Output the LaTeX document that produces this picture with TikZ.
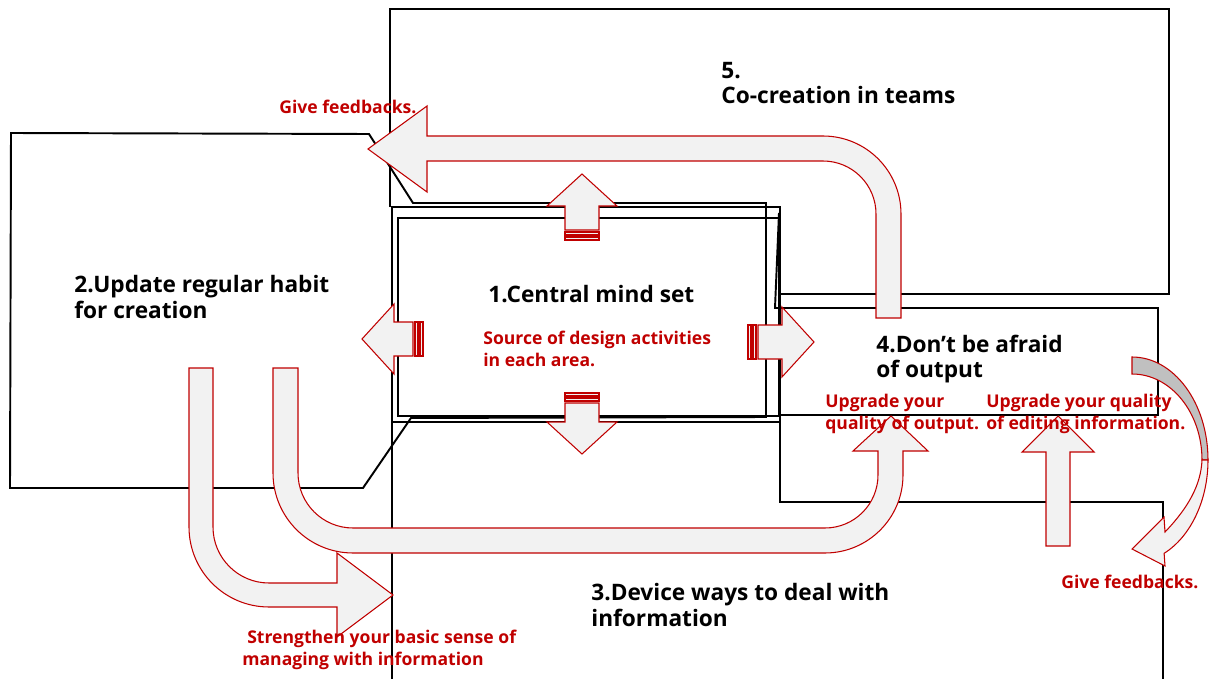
\documentclass[tikz,border=0pt]{standalone}
\usepackage{fontspec}
\setmainfont{Open Sans}[BoldFont={Open Sans Bold}]
\definecolor{mindred}{RGB}{192,0,0}
\definecolor{mindfill}{RGB}{242,242,242}
\definecolor{mindback}{RGB}{192,192,192}
\tikzset{
  areabox/.style={black,line width=1.1pt},
  blockarrow/.style={draw=mindred,fill=mindfill,line width=0.6pt,line join=miter},
  areatitle/.style={anchor=west,inner sep=0pt,align=left,font=\bfseries\fontsize{12.9}{14.7}\selectfont},
  areanote/.style={anchor=west,inner sep=0pt,align=left,text=mindred,font=\bfseries\fontsize{10}{12.5}\selectfont}
}
\newcommand\stripedarrow[3]{%
  \begin{scope}[shift={#1},rotate=#2]
    \filldraw[blockarrow] (0,-17) rectangle (3,17);
    \filldraw[blockarrow] (5,-17) rectangle (8,17);
    \filldraw[blockarrow] (10,-17) -- (#3-32,-17) -- (#3-32,-35) -- (#3,0) -- (#3-32,35) -- (#3-32,17) -- (10,17) -- cycle;
  \end{scope}}

\begin{document}
\begin{tikzpicture}[x=0.02cm,y=-0.02cm]
\useasboundingbox (0,0) rectangle (1211,679);
\clip (0,0) rectangle (1211,679);
% areas
\draw[areabox] (780,294) -- (1169,294) -- (1169,9) -- (390,9) -- (390,207);
\draw[areabox] (11,133) -- (369,134) -- (413,203) -- (766,203) -- (766,417) -- (411,418) -- (363,488) -- (10,488) -- cycle;
\draw[areabox] (392,207) rectangle (780,422);
\draw[areabox] (398,218) rectangle (779,416);
\draw[areabox] (779,213) -- (775,308) -- (1158,308) -- (1158,415) -- (780,415);
\draw[areabox] (392,690) -- (392,422) -- (780,422) -- (780,502) -- (1163,502) -- (1163,690);
% block arrows
\filldraw[blockarrow] (876,318) -- (876,214) arc[start angle=0,end angle=-90,radius=53] -- (427,161) -- (427,192) -- (368,149) -- (427,106) -- (427,136) -- (823,136) arc[start angle=-90,end angle=0,radius=78] -- (901,318) -- cycle;
\stripedarrow{(582,240)}{90}{66}
\stripedarrow{(582,393)}{-90}{61}
\stripedarrow{(423,339)}{180}{61}
\stripedarrow{(748,342)}{0}{66}
\filldraw[blockarrow] (189,368) -- (189,527) arc[start angle=180,end angle=90,radius=80] -- (337,607) -- (337,637) -- (393,595) -- (337,553) -- (337,583) -- (269,583) arc[start angle=90,end angle=180,radius=56] -- (213,368) -- cycle;
\filldraw[blockarrow] (273,368) -- (273,473) arc[start angle=180,end angle=90,radius=80] -- (825,553) arc[start angle=90,end angle=0,radius=78] -- (903,451) -- (928,451) -- (891,416) -- (853,451) -- (878,451) -- (878,475) arc[start angle=0,end angle=90,radius=53] -- (353,528) arc[start angle=90,end angle=180,radius=55] -- (298,368) -- cycle;
\filldraw[blockarrow] (1046,546) -- (1046,452) -- (1022,452) -- (1058,416) -- (1094,452) -- (1070,452) -- (1070,546) -- cycle;
\filldraw[blockarrow,fill=mindback] (1132,357) arc[start angle=-90,end angle=0,x radius=76,y radius=103] -- (1202,460) arc[start angle=0,end angle=-90,x radius=70,y radius=86] -- cycle;
\filldraw[blockarrow] (1208,460) arc[start angle=0,end angle=65,x radius=76,y radius=103] -- (1165,566) -- (1132,549) -- (1164,517) -- (1165,532) .. controls (1188,508) and (1201,485) .. (1202,460) -- cycle;
% texts
\node[areatitle] (titlefive) at (721,83) {5.\\Co-creation in teams};
\node[areatitle] (titletwo) at (74,297) {2.Update regular habit\\for creation};
\node[areatitle] (titleone) at (488,294) {1.Central mind set};
\node[areatitle] (titlefour) at (876,359) {4.Don’t be afraid\\of output};
\node[areatitle] (titlethree) at (591,605) {3.Device ways to deal with\\information};
\node[areanote] (notefeedtop) at (279,107) {Give feedbacks.};
\node[areanote] (notesource) at (483,349) {Source of design activities\\in each area.};
\node[areanote] (noteoutput) at (825,414) {Upgrade your\\quality of output.};
\node[areanote] (noteediting) at (986,414) {Upgrade your quality\\of editing information.};
\node[areanote] (notefeedright) at (1061,582) {Give feedbacks.};
\node[areanote] (notebasic) at (242,650) {\hspace{2.8pt}Strengthen your basic sense of\\managing with information};
\end{tikzpicture}
\end{document}
